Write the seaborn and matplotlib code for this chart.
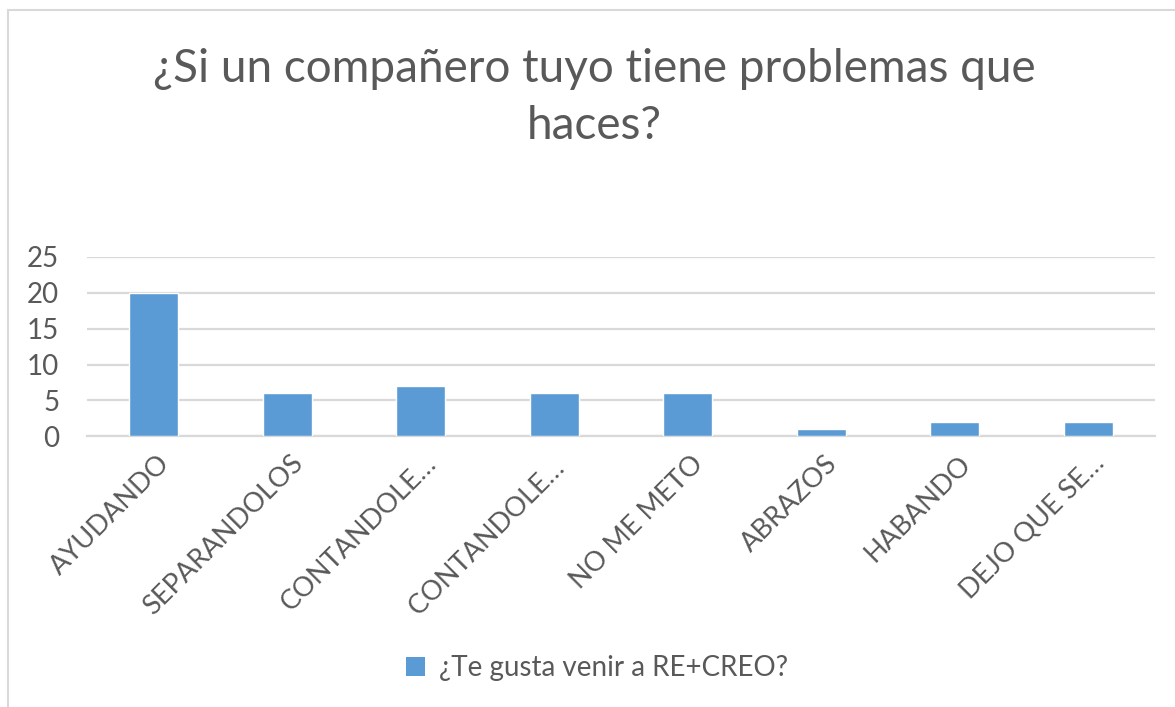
import numpy as np
import pandas as pd
import matplotlib.pyplot as plt
import matplotlib.transforms as mtrans
import seaborn as sns
from matplotlib.lines import Line2D
from matplotlib.patches import Patch

# data
categories = ['AYUDANDO', 'SEPARANDOLOS', 'CONTANDOLE…', 'CONTANDOLE… ', 'NO ME METO',
              'ABRAZOS', 'HABANDO', 'DEJO QUE SE…']
values = [20, 6, 7, 6, 6, 1, 2, 2]
series_name = '¿Te gusta venir a RE+CREO?'
title = '¿Si un compañero tuyo tiene problemas que\nhaces?'
yticks = [0, 5, 10, 15, 20, 25]

df = pd.DataFrame({'cat': categories, 'val': values})

sns.set_theme(style='white')
plt.rcParams['font.family'] = ['Lato', 'DejaVu Sans']

text_col = '#595959'
bar_col = '#5B9BD5'
grid_col = '#D9D9D9'

fig = plt.figure(figsize=(11.75, 7.07), dpi=100)
ax = fig.add_axes([0.074, 0.383, 0.909, 0.2535])

sns.barplot(data=df, x='cat', y='val', color=bar_col, width=0.37, saturation=1,
            ax=ax, zorder=3)

ax.set_ylim(0, 25)
ax.set_xlim(-0.5, len(categories) - 0.5)
ax.set_yticks(yticks)
ax.yaxis.grid(True, color=grid_col, linewidth=1.6, zorder=0)
ax.set_xlabel('')
ax.set_ylabel('')

for s in ['left', 'right', 'top']:
    ax.spines[s].set_visible(False)
ax.spines['bottom'].set_color(grid_col)
ax.spines['bottom'].set_linewidth(1.6)

ax.tick_params(axis='y', length=0, labelsize=20, labelcolor=text_col, pad=20)
ax.tick_params(axis='x', which='major', length=0, labelsize=19.5, labelcolor=text_col, pad=4)
ax.set_xticks(np.arange(len(categories) + 1) - 0.5, minor=True)
ax.tick_params(axis='x', which='minor', length=9, width=1.6, color=grid_col, direction='out')

# rotated labels ending at the category centre, as in the spreadsheet chart
offset = mtrans.ScaledTranslation(3 / 100, -9 / 100, fig.dpi_scale_trans)
for lab in ax.get_xticklabels():
    lab.set_rotation(45)
    lab.set_ha('right')
    lab.set_rotation_mode('anchor')
    lab.set_transform(lab.get_transform() + offset)

fig.text(0.506, 1 - 48 / 707, title, ha='center', va='top', fontsize=33,
         color=text_col, linespacing=1.45)

handle = Patch(facecolor=bar_col, edgecolor='none')
leg = fig.legend([handle], [series_name], loc='center', bbox_to_anchor=(0.508, 0.055),
                 frameon=False, fontsize=20, handlelength=0.7, handleheight=0.7,
                 handletextpad=0.5)
for t in leg.get_texts():
    t.set_color(text_col)

# outer chart border (left and top edges visible)
fig.add_artist(Line2D([8 / 1175, 8 / 1175], [0, 1 - 10 / 707], transform=fig.transFigure,
                      color=grid_col, linewidth=1.5))
fig.add_artist(Line2D([8 / 1175, 1], [1 - 10 / 707, 1 - 10 / 707], transform=fig.transFigure,
                      color=grid_col, linewidth=1.5))

fig.savefig('out.png', dpi=100)
